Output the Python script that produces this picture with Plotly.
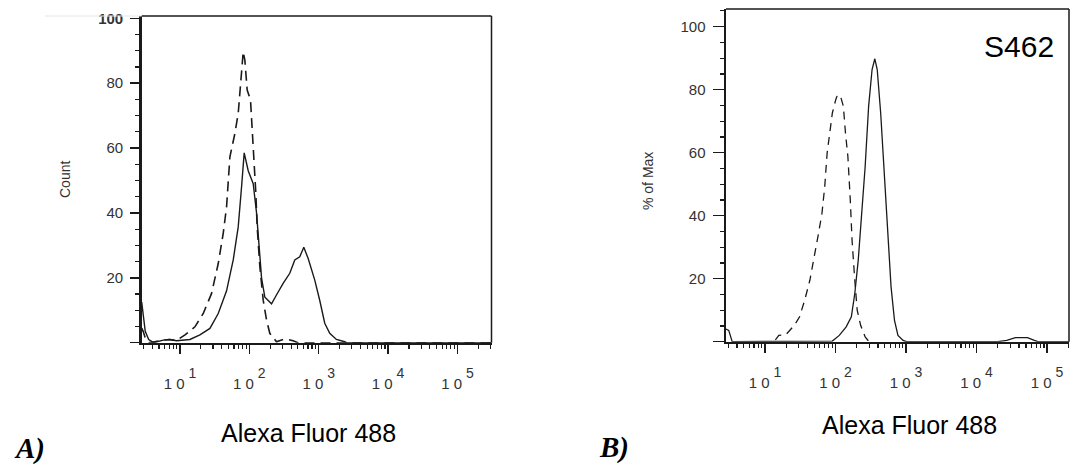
import plotly.graph_objects as go

# ---------------- data (x as log10 of fluorescence intensity) ----------------
a_solid_log = [0.449, 0.47, 0.50, 0.55, 0.62, 0.76, 0.85, 0.95, 1.05, 1.144, 1.288, 1.432, 1.552, 1.672,
               1.768, 1.840, 1.888, 1.926, 1.984, 2.056, 2.104, 2.142, 2.176, 2.224, 2.320,
               2.391, 2.487, 2.583, 2.655, 2.727, 2.785, 2.847, 2.943, 3.015, 3.087, 3.159,
               3.255, 3.375, 3.399, 5.49]
a_solid_cnt = [12.5, 8.0, 3.5, 1.0, 0.0, 0.8, 1.0, 0.6, 0.8, 1.0, 2.4, 4.4, 9.0, 16.0,
               25.5, 35.7, 48.0, 58.5, 53.0, 49.0, 40.0, 29.6, 20.0, 14.0, 12.0,
               14.7, 18.3, 21.4, 25.5, 26.5, 29.4, 26.0, 19.3, 13.0, 6.0, 2.9,
               1.0, 0.3, 0.0, 0.0]

a_dash_log = [0.449, 0.47, 0.50, 0.56, 0.76, 0.85, 0.95, 1.073, 1.216, 1.336, 1.456, 1.552, 1.624, 1.672,
              1.720, 1.792, 1.840, 1.873, 1.912, 1.936, 1.969, 2.017, 2.046, 2.065,
              2.094, 2.113, 2.152, 2.200, 2.248, 2.295, 2.391, 2.487, 2.55, 2.631, 2.70, 5.49]
a_dash_cnt = [4.5, 3.5, 1.5, 0.0, 0.8, 1.0, 0.7, 2.4, 4.9, 9.0, 15.2, 24.4, 33.7, 41.9,
              57.3, 64.5, 70.7, 80.0, 89.7, 87.0, 77.9, 74.8, 64.5, 54.2,
              46.0, 35.7, 23.4, 13.1, 7.0, 2.9, 0.3, 1.0, 1.0, 0.6, 0.0, 0.0]

b_solid_log = [0.447, 0.486, 0.535, 1.0, 1.955, 2.053, 2.151, 2.224, 2.273, 2.322, 2.371, 2.420,
               2.469, 2.518, 2.557, 2.591, 2.640, 2.689, 2.738, 2.787, 2.836, 2.885,
               2.958, 3.007, 4.3, 4.427, 4.550, 4.721, 4.819, 4.868, 5.31]
b_solid_pct = [4.0, 3.6, 0.0, 0.0, 0.2, 2.0, 4.7, 7.9, 15.3, 25.9, 39.7, 55.6,
               74.7, 86.4, 89.8, 86.4, 72.6, 53.5, 34.4, 17.4, 6.8, 2.0,
               0.4, 0.0, 0.0, 0.4, 1.3, 1.3, 0.4, 0.0, 0.0]

b_dash_log = [1.147, 1.196, 1.294, 1.416, 1.490, 1.563, 1.636, 1.710, 1.759, 1.808, 1.847,
              1.881, 1.916, 1.955, 2.004, 2.028, 2.077, 2.111, 2.141, 2.175, 2.209,
              2.234, 2.273, 2.307, 2.356, 2.420, 2.469]
b_dash_pct = [0.6, 2.0, 2.2, 5.2, 7.9, 13.2, 19.5, 28.0, 34.4, 40.8, 49.3,
              59.9, 65.2, 72.6, 76.9, 78.4, 77.4, 74.7, 66.2, 58.8, 45.0,
              32.3, 19.5, 10.0, 5.2, 1.5, 0.2]

decades = [1, 2, 3, 4, 5]
exponents = ["1", "2", "3", "4", "5"]
decade_labels = ["1 0<span style='font-size:14px;baseline-shift:11px'> " + e + "</span>"
                 for e in exponents]
y_major = [0, 20, 40, 60, 80, 100]
a_y_labels = ["", "20", "40", "60", "80", "<b>100</b>"]
b_y_labels = ["", "20", "40", "60", "80", "100"]

x_title = "Alexa Fluor 488"
a_y_title = "Count"
b_y_title = "% of Max"
sample_label = "S462"

# ---------------- figure ----------------
W, H = 1070, 466
LINE = "#1a1a1a"
TXT = "#333333"
FONT = "Liberation Sans, Arial, sans-serif"

def px_x(p):
    return p / W

def px_y(p):
    return 1 - p / H

fig = go.Figure()

def to_lin(v):
    return [10 ** t for t in v]

fig.add_trace(go.Scatter(x=to_lin(a_solid_log), y=a_solid_cnt, mode="lines",
                         line=dict(color=LINE, width=1.4), xaxis="x", yaxis="y",
                         showlegend=False, hoverinfo="skip"))
fig.add_trace(go.Scatter(x=to_lin(a_dash_log), y=a_dash_cnt, mode="lines",
                         line=dict(color=LINE, width=1.6, dash="10px,6px"), xaxis="x", yaxis="y",
                         showlegend=False, hoverinfo="skip"))
fig.add_trace(go.Scatter(x=to_lin(b_solid_log), y=b_solid_pct, mode="lines",
                         line=dict(color=LINE, width=1.3), xaxis="x2", yaxis="y2",
                         showlegend=False, hoverinfo="skip"))
fig.add_trace(go.Scatter(x=to_lin(b_dash_log), y=b_dash_pct, mode="lines",
                         line=dict(color=LINE, width=1.3, dash="8px,6px"), xaxis="x2", yaxis="y2",
                         showlegend=False, hoverinfo="skip"))

minor_x = [k * 10 ** d for d in range(0, 6) for k in range(2, 10)]
minor_y = [v for v in range(0, 106, 5) if v % 20 != 0]

def xaxis(dom, rng, anchor):
    return dict(domain=dom, type="log", range=rng, anchor=anchor, automargin=False,
                tickmode="array", tickvals=[10 ** d for d in decades], ticktext=decade_labels,
                ticks="outside", ticklen=9, tickwidth=1.5, tickcolor=LINE,
                showline=True, linewidth=2.5, linecolor=LINE,
                showgrid=False, zeroline=False, ticklabelstandoff=17,
                tickfont=dict(family=FONT, size=15, color=TXT),
                minor=dict(tickmode="array", tickvals=minor_x, ticks="outside",
                           ticklen=4, tickwidth=1.2, tickcolor=LINE, showgrid=False))

def yaxis(dom, rng, anchor, labels, tlen):
    return dict(domain=dom, range=rng, anchor=anchor, automargin=False,
                tickmode="array", tickvals=y_major, ticktext=labels,
                ticks="outside", ticklen=tlen, tickwidth=1.5, tickcolor=LINE,
                showline=True, linewidth=2.5, linecolor=LINE,
                showgrid=False, zeroline=False, ticklabelstandoff=4,
                tickfont=dict(family=FONT, size=15, color=TXT),
                minor=dict(tickmode="array", tickvals=minor_y, ticks="outside",
                           ticklen=4, tickwidth=1.2, tickcolor=LINE, showgrid=False))

A_x = [px_x(141.7), px_x(491.5)]
A_y = [px_y(342.7), px_y(16)]
B_x = [px_x(726), px_x(1069)]
B_y = [px_y(341.7), px_y(9)]

fig.update_layout(
    width=W, height=H, margin=dict(l=0, r=0, t=0, b=0, autoexpand=False),
    paper_bgcolor="white", plot_bgcolor="white",
    xaxis=xaxis(A_x, [0.449, 5.49], "y"),
    yaxis=yaxis(A_y, [0, 100.7], "x", a_y_labels, 9),
    xaxis2=xaxis(B_x, [0.447, 5.31], "y2"),
    yaxis2=yaxis(B_y, [0, 105.6], "x2", b_y_labels, 11),
)

shapes = []
# top and right frame edges
shapes.append(dict(type="line", xref="paper", yref="paper", x0=A_x[0], x1=A_x[1], y0=A_y[1], y1=A_y[1],
                   line=dict(color=LINE, width=1.5)))
shapes.append(dict(type="line", xref="paper", yref="paper", x0=A_x[1], x1=A_x[1], y0=A_y[0], y1=A_y[1],
                   line=dict(color=LINE, width=1.5)))
shapes.append(dict(type="line", xref="paper", yref="paper", x0=B_x[0], x1=B_x[1], y0=B_y[1], y1=B_y[1],
                   line=dict(color=LINE, width=1.5)))
shapes.append(dict(type="line", xref="paper", yref="paper", x0=B_x[1], x1=B_x[1], y0=B_y[0], y1=B_y[1],
                   line=dict(color=LINE, width=1.5)))
# faint scan line left of panel A's top
shapes.append(dict(type="line", xref="paper", yref="paper", x0=px_x(45), x1=A_x[0], y0=A_y[1], y1=A_y[1],
                   line=dict(color="#e6e6e6", width=1)))
fig.update_layout(shapes=shapes)

def note(text, x, y, size, color="#000", family=FONT, angle=0, xanchor="center"):
    return dict(text=text, x=px_x(x), y=px_y(y), xref="paper", yref="paper",
                xanchor=xanchor, yanchor="middle", showarrow=False, textangle=angle,
                font=dict(family=family, size=size, color=color))

SERIF = "Liberation Serif, Times New Roman, serif"
ann = [
    note(a_y_title, 65, 180, 14, TXT, angle=-90),
    note(b_y_title, 648, 181, 14, TXT, angle=-90),
    note(x_title, 308, 433, 25),
    note(x_title, 909, 425, 25),
    note(sample_label, 1019, 46, 30),
    note("<b><i>A)</i></b>", 12, 448, 29, family=SERIF, xanchor="left"),
    note("<b><i>B)</i></b>", 597, 447, 29, family=SERIF, xanchor="left"),
]
fig.update_layout(annotations=ann)

fig.write_html("out.html", config={"displayModeBar": False, "staticPlot": True},
               post_script="document.body.style.margin='0';document.body.style.padding='0';")
